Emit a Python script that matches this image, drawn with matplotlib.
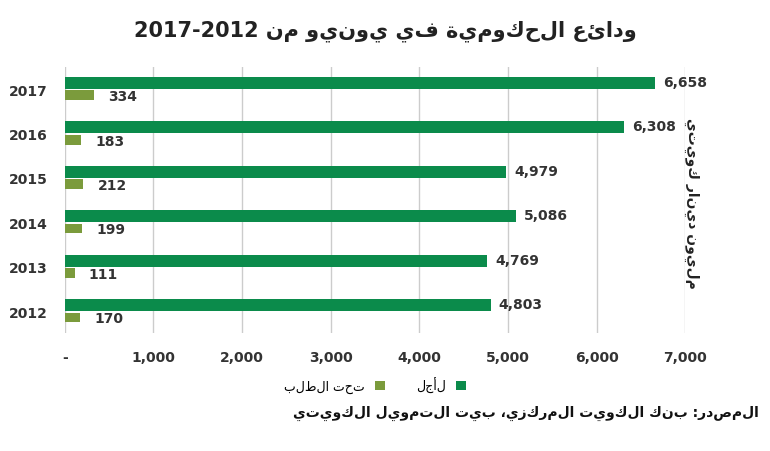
import numpy as np
import matplotlib.pyplot as plt

years = ['2012', '2013', '2014', '2015', '2016', '2017']
term = [4803, 4769, 5086, 4979, 6308, 6658]
demand = [170, 111, 199, 212, 183, 334]
xticks = [0, 1000, 2000, 3000, 4000, 5000, 6000, 7000]
xlabels = ['-', '1,000', '2,000', '3,000', '4,000', '5,000', '6,000', '7,000']

def ar(s):
    # no shaping available: put characters in visual (right-to-left) order
    return s[::-1]

fig = plt.figure(figsize=(7.7, 4.52), dpi=100)
ax = fig.add_axes([0.084, 0.26, 0.806, 0.59])

y = np.arange(len(years))
green = '#0b8b4b'
olive = '#7b9b3c'
b1 = ax.barh(y + 0.14, term, height=0.27, color=green, zorder=3)
b2 = ax.barh(y - 0.14, demand, height=0.22, color=olive, zorder=3)

for i in range(len(years)):
    ax.text(term[i] + 90, y[i] + 0.16, f'{term[i]:,}', va='center', fontsize=10, fontweight='bold', color='#333333')
    ax.text(demand[i] + 160, y[i] - 0.16, f'{demand[i]:,}', va='center', fontsize=10, fontweight='bold', color='#333333')

ax.set_xlim(0, 7000)
ax.set_ylim(-0.5, 5.5)
ax.set_xticks(xticks)
ax.set_xticklabels(xlabels, fontsize=10, fontweight='bold', color='#333333')
ax.set_yticks(y)
ax.set_yticklabels(years, fontsize=10, fontweight='bold', color='#333333')
ax.grid(axis='x', color='#cccccc', lw=1, zorder=0)
for s in ax.spines.values():
    s.set_visible(False)
ax.tick_params(length=0, pad=12)

fig.text(0.5, 0.93, '2017-2012 ' + ar('ودائع الحكومية في يونيو من'), ha='center', va='center',
         fontsize=15, fontweight='bold', color='#222222')
fig.text(0.898, 0.55, ar('مليون دينار كويتي'), rotation=-90, ha='center', va='center',
         fontsize=10, fontweight='bold', color='#222222')
ax.legend([b2, b1], [ar('تحت الطلب'), ar('لأجل')], loc='upper center', bbox_to_anchor=(0.5, -0.12),
          ncol=2, frameon=False, fontsize=9, handlelength=0.8, handleheight=0.8,
          columnspacing=2.5, markerfirst=False)
fig.text(0.985, 0.085, ar('المصدر: بنك الكويت المركزي، بيت التمويل الكويتي'), ha='right', va='center',
         fontsize=10, fontweight='bold', color='#111111')

fig.savefig('out.png', dpi=100)
